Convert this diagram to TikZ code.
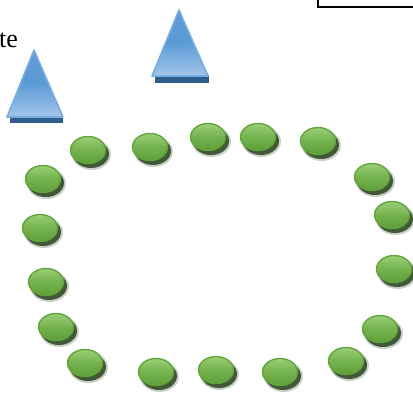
\documentclass[tikz,border=0pt]{standalone}
\usepackage{fontspec}
\setmainfont{Liberation Serif}
\usetikzlibrary{shapes.geometric}
\definecolor{gfill}{HTML}{74B24C}
\definecolor{gtop}{HTML}{9ACF7A}
\definecolor{gbot}{HTML}{5E9F38}
\definecolor{grim}{HTML}{62A53A}
\definecolor{gshadow}{HTML}{2A4420}
\definecolor{btop}{HTML}{5C9BD6}
\definecolor{bmid}{HTML}{5B9BD5}
\definecolor{bbot}{HTML}{A4C6EA}
\definecolor{brim}{HTML}{76AEE3}
\definecolor{bbar}{HTML}{2E5D8C}
\begin{document}
\begin{tikzpicture}[x=1pt,y=-1pt,
  bead/.style={ellipse, minimum width=35pt, minimum height=27pt, inner sep=0pt,
    draw=grim, line width=1.4pt, top color=gtop, bottom color=gbot, middle color=gfill},
  beadshadow/.style={ellipse, minimum width=36pt, minimum height=28pt, inner sep=0pt,
    fill=gshadow, fill opacity=0.85},
  beadhalo/.style={ellipse, minimum width=39pt, minimum height=31pt, inner sep=0pt,
    fill=gshadow, fill opacity=0.25},
  cone/.style={draw=brim, line width=1.6pt, line join=round, top color=btop, bottom color=bbot, middle color=bmid},
  conebar/.style={fill=bbar},
  frame/.style={draw=black, line width=1.5pt}]
\useasboundingbox (0,0) rectangle (413,392);
% partial text
\node[anchor=base east, inner sep=0pt, font=\fontsize{26}{30}\selectfont] (txt) at (18,47) {te};
% partial frame at top right
\draw[frame] (318,-10) rectangle (425,7);
% cones
\fill[conebar] (10,116) rectangle (63,123);
\draw[cone] (34,50) -- (63,117) -- (7,117) -- cycle;
\fill[conebar] (155,75) rectangle (209,83);
\draw[cone] (179,10) -- (208,76) -- (152,76) -- cycle;
% beads
\foreach \n/\x/\y in {b1/88/150, b2/150/147, b3/208/137, b4/258/137, b5/318/141,
  b6/372/177, b7/392/215, b8/394/269, b9/380/329, b10/346/361, b11/280/372,
  b12/216/370, b13/156/372, b14/85/363, b15/56/327, b16/46/282, b17/40/228, b18/43/179}
{
  \node[beadhalo] (h\n) at (\x+3.5,\y+4.5) {};
  \node[beadshadow] (s\n) at (\x+3,\y+4) {};
  \node[bead] (\n) at (\x,\y) {};
}
\end{tikzpicture}
\end{document}
